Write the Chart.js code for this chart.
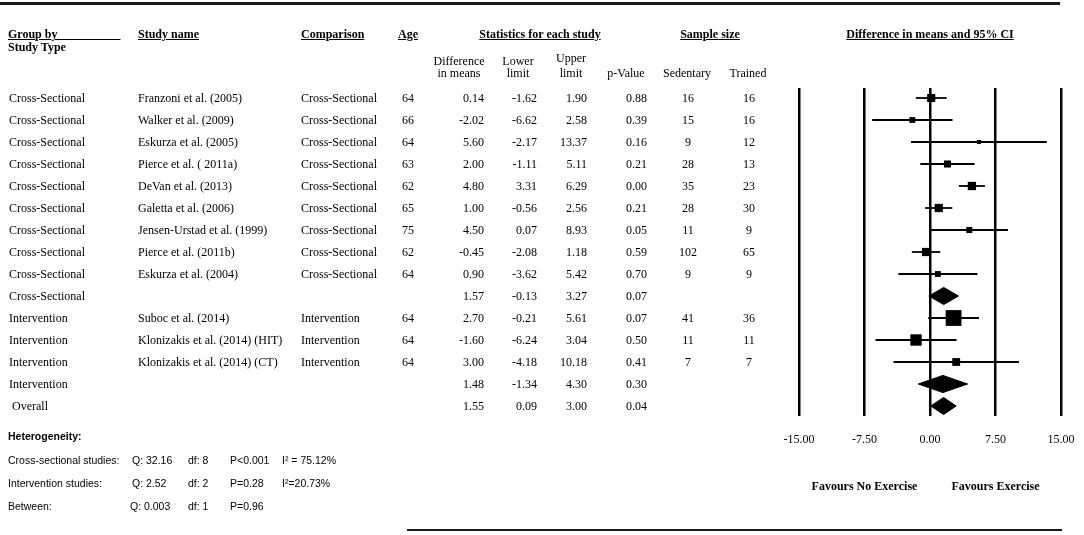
<!DOCTYPE html>
<html>
<head>
<meta charset="utf-8">
<script src="https://cdn.jsdelivr.net/npm/chart.js@4.4.1/dist/chart.umd.min.js"></script>
<style>
  body { margin: 0; background: #fff; }
  #wrap { position: relative; width: 1084px; height: 535px; overflow: hidden;
          font-family: "Liberation Serif", "Times New Roman", serif; font-size: 12px; color: #000; }
  #plot { position: absolute; left: 0; top: 0; }
  .t { position: absolute; white-space: nowrap; line-height: 14px; }
  .b { font-weight: bold; }
  .u { text-decoration: underline; }
  .s { font-family: "Liberation Sans", Arial, sans-serif; font-size: 10.5px; }
  .rule { position: absolute; background: #1a1a1a; }
</style>
</head>
<body>
<div id="wrap">
  <canvas id="plot" width="1084" height="535"></canvas>
  <div class="rule" style="left:0;top:2px;width:1060px;height:3px"></div>
  <div class="rule" style="left:407px;top:529px;width:655px;height:2px"></div>
</div>
<script>
// one entry per row, top to bottom (summary rows have no study name)
const groups = ['Cross-Sectional', 'Cross-Sectional', 'Cross-Sectional', 'Cross-Sectional', 'Cross-Sectional',
  'Cross-Sectional', 'Cross-Sectional', 'Cross-Sectional', 'Cross-Sectional', 'Cross-Sectional',
  'Intervention', 'Intervention', 'Intervention', 'Intervention', 'Overall']
const studies = ['Franzoni et al. (2005)', 'Walker et al. (2009)', 'Eskurza et al. (2005)', 'Pierce et al. ( 2011a)',
  'DeVan et al. (2013)', 'Galetta et al. (2006)', 'Jensen-Urstad et al. (1999)', 'Pierce et al. (2011b)',
  'Eskurza et al. (2004)', '', 'Suboc et al. (2014)', 'Klonizakis et al. (2014) (HIT)',
  'Klonizakis et al. (2014) (CT)', '', '']
const comparisons = ['Cross-Sectional', 'Cross-Sectional', 'Cross-Sectional', 'Cross-Sectional', 'Cross-Sectional',
  'Cross-Sectional', 'Cross-Sectional', 'Cross-Sectional', 'Cross-Sectional', '',
  'Intervention', 'Intervention', 'Intervention', '', '']
const ages = [64, 66, 64, 63, 62, 65, 75, 62, 64, null, 64, 64, 64, null, null]
const diffs = [0.14, -2.02, 5.60, 2.00, 4.80, 1.00, 4.50, -0.45, 0.90, 1.57, 2.70, -1.60, 3.00, 1.48, 1.55]
const lowers = [-1.62, -6.62, -2.17, -1.11, 3.31, -0.56, 0.07, -2.08, -3.62, -0.13, -0.21, -6.24, -4.18, -1.34, 0.09]
const uppers = [1.90, 2.58, 13.37, 5.11, 6.29, 2.56, 8.93, 1.18, 5.42, 3.27, 5.61, 3.04, 10.18, 4.30, 3.00]
const pvalues = [0.88, 0.39, 0.16, 0.21, 0.00, 0.21, 0.05, 0.59, 0.70, 0.07, 0.07, 0.50, 0.41, 0.30, 0.04]
const sedentary = [16, 15, 9, 28, 35, 28, 11, 102, 9, null, 41, 11, 7, null, null]
const trained = [16, 16, 12, 13, 23, 30, 9, 65, 9, null, 36, 11, 7, null, null]
// relative weight (%) within subgroup
const weights = [15.0, 7.7, 3.8, 11.2, 15.6, 15.5, 8.1, 15.3, 7.9, null, 56.7, 29.4, 13.9, null, null]

const xTicks = [-15, -7.5, 0, 7.5, 15]

const hetLabels = ['Cross-sectional studies:', 'Intervention studies:', 'Between:']
const hetQ = ['Q: 32.16', 'Q: 2.52', 'Q: 0.003']
const hetDf = ['df: 8', 'df: 2', 'df: 1']
const hetP = ['P<0.001', 'P=0.28', 'P=0.96']
const hetI2 = ['I² = 75.12%', 'I²=20.73%', '']

const BOX = 1.485        // point radius per sqrt(weight)
const DIAMOND_HALF = 0.39 // half height of summary diamonds, in rows

const rows = studies.map((s, i) => i)
const studyRows = rows.filter(i => studies[i] !== '')
const summaryRows = rows.filter(i => studies[i] === '')

const datasets = []
datasets.push({
  type: 'scatter',
  data: studyRows.map(i => ({ x: diffs[i], y: i })),
  pointStyle: 'rect',
  pointRadius: studyRows.map(i => BOX * Math.sqrt(weights[i])),
  pointBackgroundColor: '#000',
  pointBorderWidth: 0
})
studyRows.forEach(i => {
  datasets.push({
    type: 'scatter',
    showLine: true,
    data: [{ x: lowers[i], y: i }, { x: uppers[i], y: i }],
    borderColor: '#000',
    borderWidth: 1.8,
    pointRadius: 0
  })
})
summaryRows.forEach(i => {
  datasets.push({
    type: 'scatter',
    showLine: true,
    fill: 'shape',
    backgroundColor: '#000',
    borderColor: '#000',
    borderWidth: 1,
    pointRadius: 0,
    data: [
      { x: lowers[i], y: i }, { x: diffs[i], y: i - DIAMOND_HALF },
      { x: uppers[i], y: i }, { x: diffs[i], y: i + DIAMOND_HALF }, { x: lowers[i], y: i }
    ]
  })
})

const chart = new Chart(document.getElementById('plot'), {
  type: 'scatter',
  data: { datasets },
  options: {
    responsive: false,
    animation: false,
    events: [],
    layout: { padding: { left: 799, right: 23, top: 88, bottom: 79 } },
    plugins: { legend: { display: false }, tooltip: { enabled: false } },
    scales: {
      x: {
        type: 'linear',
        min: xTicks[0],
        max: xTicks[xTicks.length - 1],
        afterBuildTicks: s => { s.ticks = xTicks.map(v => ({ value: v })) },
        afterFit: s => { s.height = 40 },
        ticks: {
          callback: v => v.toFixed(2),
          color: '#000',
          padding: 0,
          maxRotation: 0,
          font: { family: 'Liberation Serif', size: 12 }
        },
        // invisible tick marks keep the labels clear of the plot
        grid: { color: '#000', lineWidth: 2.5, drawTicks: true, tickLength: 17, tickColor: 'rgba(0,0,0,0)' },
        border: { display: false }
      },
      y: {
        type: 'linear',
        reverse: true,
        min: -0.4545,
        max: rows.length - 1 + 0.4545,
        display: false
      }
    }
  }
})

// table text
const wrap = document.getElementById('wrap')
const put = (text, x, y, align, cls) => {
  const d = document.createElement('div')
  d.className = 't ' + (cls || '')
  d.textContent = text
  d.style.left = x + 'px'
  d.style.top = y + 'px'
  const tx = align === 'right' ? '-100%' : align === 'center' ? '-50%' : '0'
  d.style.transform = `translate(${tx}, -50%)`
  wrap.appendChild(d)
}

put('Group by' + '\u00a0'.repeat(21), 8, 34, 'left', 'b u')
put('Study Type', 8, 47, 'left', 'b')
put('Study name', 138, 34, 'left', 'b u')
put('Comparison', 301, 34, 'left', 'b u')
put('Age', 398, 34, 'left', 'b u')
put('Statistics for each study', 540, 34, 'center', 'b u')
put('Sample size', 710, 34, 'center', 'b u')
put('Difference in means and 95% CI', 930, 34, 'center', 'b u')
put('Difference', 459, 61, 'center')
put('in means', 459, 73, 'center')
put('Lower', 518, 61, 'center')
put('limit', 518, 73, 'center')
put('Upper', 571, 58, 'center')
put('limit', 571, 73, 'center')
put('p-Value', 626, 73, 'center')
put('Sedentary', 687, 73, 'center')
put('Trained', 748, 73, 'center')

const ys = chart.scales.y
rows.forEach(i => {
  const y = ys.getPixelForValue(i)
  put(groups[i], groups[i] === 'Overall' ? 12 : 9, y, 'left')
  if (studies[i]) put(studies[i], 138, y, 'left')
  if (comparisons[i]) put(comparisons[i], 301, y, 'left')
  if (ages[i] !== null) put(String(ages[i]), 402, y, 'left')
  put(diffs[i].toFixed(2), 484, y, 'right')
  put(lowers[i].toFixed(2), 537, y, 'right')
  put(uppers[i].toFixed(2), 587, y, 'right')
  put(pvalues[i].toFixed(2), 647, y, 'right')
  if (sedentary[i] !== null) put(String(sedentary[i]), 688, y, 'center')
  if (trained[i] !== null) put(String(trained[i]), 749, y, 'center')
})

const xs = chart.scales.x
put('Favours No Exercise', xs.getPixelForValue(-7.5), 486, 'center', 'b')
put('Favours Exercise', xs.getPixelForValue(7.5), 486, 'center', 'b')

// heterogeneity block
put('Heterogeneity:', 8, 436, 'left', 's b')
hetLabels.forEach((lab, k) => {
  const y = 460 + k * 23
  put(lab, 8, y, 'left', 's')
  put(hetQ[k], k === 2 ? 130 : 132, y, 'left', 's')
  put(hetDf[k], 188, y, 'left', 's')
  put(hetP[k], 230, y, 'left', 's')
  if (hetI2[k]) put(hetI2[k], 282, y, 'left', 's')
})
</script>
</body>
</html>
